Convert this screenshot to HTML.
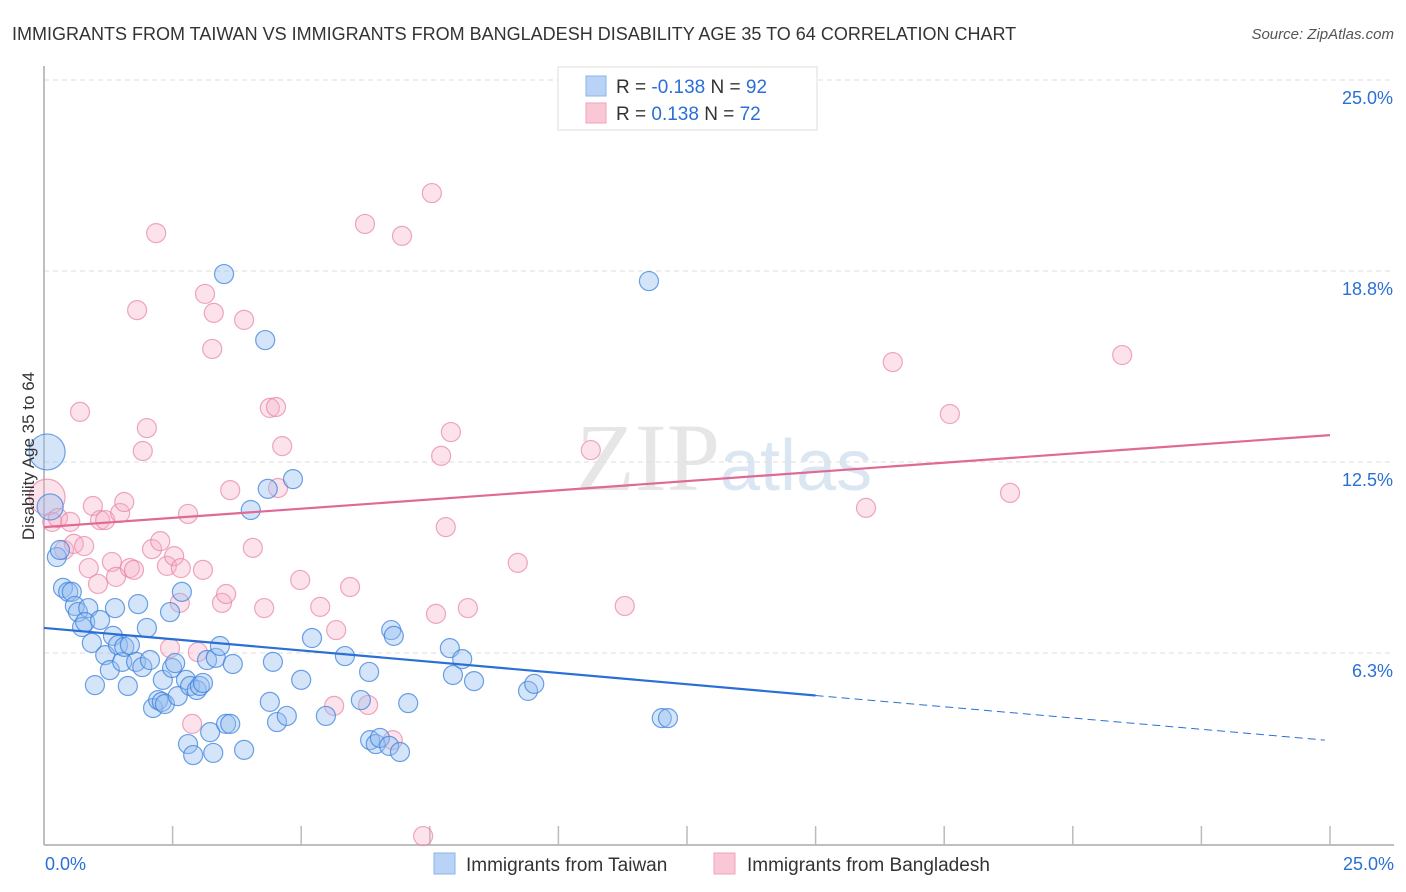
<!DOCTYPE html>
<html><head><meta charset="utf-8"><style>
body{margin:0;background:#fff;font-family:"Liberation Sans",sans-serif;}
svg{display:block}
</style></head><body>
<svg id="chart" width="1406" height="892" xmlns="http://www.w3.org/2000/svg">
<text x="12" y="40" font-size="18" fill="#333">IMMIGRANTS FROM TAIWAN VS IMMIGRANTS FROM BANGLADESH DISABILITY AGE 35 TO 64 CORRELATION CHART</text>
<text x="1394" y="39" font-size="15" fill="#555" font-style="italic" text-anchor="end">Source: ZipAtlas.com</text>
<text x="720" y="490" font-size="96" fill="#e6e6e6" text-anchor="end" font-family="Liberation Serif,serif">ZIP</text>
<text x="720" y="490" font-size="72" fill="#dbe6f3">atlas</text>
<g id="grid"></g><g id="axes"></g><g id="marks"></g>
<text x="34" y="456" font-size="17" fill="#333" text-anchor="middle" transform="rotate(-90 34 456)">Disability Age 35 to 64</text>
<g>
<rect x="558" y="67" width="259" height="63" fill="#fff" stroke="#ddd"/>
<rect x="586" y="76" width="20" height="20" fill="#b8d3f5" stroke="#8ab4ea"/>
<rect x="586" y="103" width="20" height="20" fill="#f9c7d6" stroke="#efa3bb"/>
<text x="616" y="93" font-size="19" fill="#333">R = <tspan fill="#2a6fd6">-0.138</tspan>   N = <tspan fill="#2a6fd6">92</tspan></text>
<text x="616" y="120" font-size="19" fill="#333">R =  <tspan fill="#2a6fd6"> 0.138</tspan>   N = <tspan fill="#2a6fd6">72</tspan></text>
</g>
<g>
<rect x="434" y="853" width="21" height="21" fill="#b8d3f5" stroke="#8ab4ea"/>
<text x="466" y="871" font-size="19" fill="#333">Immigrants from Taiwan</text>
<rect x="714" y="853" width="21" height="21" fill="#f9c7d6" stroke="#efa3bb"/>
<text x="747" y="871" font-size="19" fill="#333">Immigrants from Bangladesh</text>
</g>
</svg>
<script>
const yTicks=[25,18.75,12.5,6.25];
const yTickLabels=["25.0%","18.8%","12.5%","6.3%"];
const xEndLabels=["0.0%","25.0%"];
const blueX=[.06,.12,.25,.31,.37,.47,.54,.60,.66,.86,.74,.80,.93,1.09,.99,1.19,1.28,1.38,1.34,1.44,1.52,1.56,1.63,1.67,1.83,1.79,1.91,2.00,2.06,2.12,2.22,2.29,2.35,2.31,2.45,2.49,2.55,2.60,2.68,2.76,2.80,2.84,2.90,2.97,3.03,3.09,3.17,3.23,3.29,3.34,3.42,3.50,3.54,3.62,3.67,3.89,4.02,4.30,4.35,4.39,4.45,4.53,4.72,4.84,5.00,5.21,5.48,5.85,6.16,6.32,6.34,6.45,6.53,6.75,6.80,6.71,6.92,7.08,7.89,7.95,8.13,8.36,9.41,9.53,11.76,12.01,12.13];
const blueY=[12.83,11.03,9.39,9.62,8.38,8.25,8.25,7.79,7.59,7.72,7.10,7.26,6.58,7.33,5.20,6.18,5.69,7.72,6.81,6.51,5.96,6.45,5.17,6.51,7.85,5.96,5.79,7.07,6.02,4.45,4.71,4.65,4.58,5.37,7.59,5.76,5.92,4.84,8.25,5.37,3.27,5.17,2.91,5.04,5.17,5.27,6.02,3.66,2.98,6.09,6.48,18.65,3.93,3.93,5.89,3.08,10.93,16.49,11.62,4.65,5.96,3.99,4.19,11.94,5.37,6.74,4.19,6.15,4.71,5.63,3.40,3.27,3.47,7.00,6.81,3.21,3.01,4.61,6.41,5.53,6.05,5.33,5.01,5.24,18.42,4.12,4.12];
const pinkX=[.06,.16,.27,.39,.51,.58,.70,.78,.87,.95,1.05,1.09,1.19,1.32,1.40,1.48,1.56,1.67,1.75,1.81,2.00,1.92,2.10,2.18,2.26,2.39,2.45,2.53,2.66,2.64,2.80,2.88,2.99,3.09,3.13,3.27,3.30,3.46,3.54,3.62,3.89,4.06,4.28,4.39,4.51,4.55,4.63,4.98,5.37,5.68,5.64,5.95,6.24,6.30,6.78,6.96,7.37,7.54,7.62,7.72,7.81,7.91,8.24,9.21,10.63,11.29,15.98,16.50,17.61,18.78,20.96];
const pinkY=[11.35,10.54,10.67,9.62,10.54,9.82,14.14,9.75,9.03,11.06,8.51,10.60,10.60,9.23,8.74,10.83,11.19,9.03,8.97,17.47,13.61,12.86,9.65,19.99,9.91,9.10,6.41,9.42,9.03,7.89,10.80,3.93,6.28,8.97,18.00,16.20,17.38,7.89,8.18,11.58,17.15,9.69,7.72,14.27,14.30,11.65,13.02,8.64,7.76,7.00,4.52,8.41,20.29,4.55,3.40,19.90,0.26,21.30,7.53,12.70,10.37,13.48,7.72,9.20,12.89,7.79,11.00,15.77,14.07,11.49,16.00];
const blueTrend=[7.07,3.40]; // y at x=0 and x=24.9
const blueTrendX=[0,15,24.9];
const pinkTrend=[10.37,13.38];
const NS="http://www.w3.org/2000/svg";
const X0=44,X1=1330,Y0=844,Y1=80;
function sx(v){return X0+v/25*(X1-X0);}
function sy(v){return Y0-v/25*(Y0-Y1);}
function mk(tag,attrs,parent){const e=document.createElementNS(NS,tag);for(const k in attrs)e.setAttribute(k,attrs[k]);parent.appendChild(e);return e;}
const grid=document.getElementById('grid'),axes=document.getElementById('axes'),marks=document.getElementById('marks');
yTicks.forEach((t,i)=>{
 const l=mk('line',{x1:X0,x2:1394,y1:sy(t),y2:sy(t),stroke:'#ddd','stroke-dasharray':'5,4'},grid);
 
 
 const tx=mk('text',{x:1393,y:sy(t)+24,'font-size':18,fill:'#2a6fd6','text-anchor':'end'},axes);
 tx.textContent=yTickLabels[i];
 
 
});
const ya=mk('line',{x1:X0,x2:X0,y1:66,y2:845,stroke:'#aaa','stroke-width':1.5},axes);


const xa=mk('line',{x1:X0,x2:1394,y1:845,y2:845,stroke:'#aaa','stroke-width':1.5},axes);


for(let i=1;i<=10;i++){
 const t=mk('line',{x1:sx(i*2.5),x2:sx(i*2.5),y1:826,y2:845,stroke:'#bbb','stroke-width':1.5},axes);
 
 
}
const xl0=mk('text',{x:45,y:870,'font-size':18,fill:'#2a6fd6'},axes);xl0.textContent=xEndLabels[0];


const xl1=mk('text',{x:1394,y:870,'font-size':18,fill:'#2a6fd6','text-anchor':'end'},axes);xl1.textContent=xEndLabels[1];


function dots(xs,ys,fill,stroke,name,big){
 xs.forEach((x,i)=>{
  const r=i===0?18:(i===1&&big?13:9.5);
  const c=mk('circle',{cx:sx(x),cy:sy(ys[i]),r:r,fill:fill,stroke:stroke,'stroke-width':1.2},marks);
  
  
 });
}
dots(pinkX,pinkY,'rgba(247,175,198,0.35)','rgba(232,130,162,0.7)','bangladesh-point',false);
dots(blueX,blueY,'rgba(150,190,240,0.4)','rgba(60,130,220,0.75)','taiwan-point',true);
function ty(tr,x){return tr[0]+(tr[1]-tr[0])*x/24.9;}
const b1=mk('line',{x1:sx(blueTrendX[0]),y1:sy(ty(blueTrend,blueTrendX[0])),x2:sx(blueTrendX[1]),y2:sy(ty(blueTrend,blueTrendX[1])),stroke:'#2a6fd6','stroke-width':2.2},marks);


const b2=mk('line',{x1:sx(blueTrendX[1]),y1:sy(ty(blueTrend,blueTrendX[1])),x2:sx(blueTrendX[2]),y2:sy(ty(blueTrend,blueTrendX[2])),stroke:'#2a6fd6','stroke-width':1,'stroke-dasharray':'8,5'},marks);


const p1=mk('line',{x1:sx(0),y1:sy(pinkTrend[0]),x2:sx(25),y2:sy(pinkTrend[1]),stroke:'#e06a95','stroke-width':2.2},marks);


</script>
</body></html>
